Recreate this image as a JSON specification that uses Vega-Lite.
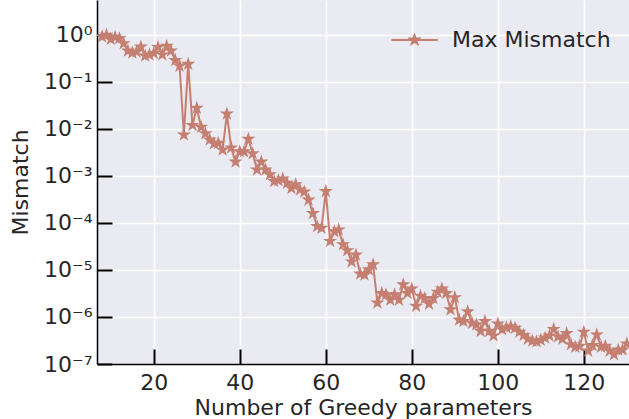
{
  "$schema": "https://vega.github.io/schema/vega-lite/v6.json",
  "width": 532,
  "height": 364,
  "autosize": {"type": "none"},
  "padding": {"left": 97, "top": 0, "right": 0, "bottom": 55},
  "background": "white",
  "config": {
    "view": {"fill": "#eaeaf2", "stroke": null},
    "font": "DejaVu Sans",
    "axis": {
      "domainColor": "black",
      "domainWidth": 1.5,
      "tickColor": "black",
      "tickWidth": 2,
      "tickSize": -15,
      "gridColor": "white",
      "gridWidth": 1.6,
      "labelFont": "DejaVu Sans",
      "labelFontSize": 22,
      "labelColor": "#262626",
      "titleFont": "DejaVu Sans",
      "titleFontSize": 22,
      "titleFontWeight": "normal",
      "titleColor": "#262626"
    }
  },
  "data": {
    "values": [
      {"n": 8, "mismatch": 0.92}, {"n": 9, "mismatch": 1.0}, {"n": 10, "mismatch": 0.81}, {"n": 11, "mismatch": 0.9},
      {"n": 12, "mismatch": 0.85}, {"n": 13, "mismatch": 0.66}, {"n": 14, "mismatch": 0.46}, {"n": 15, "mismatch": 0.42},
      {"n": 16, "mismatch": 0.44}, {"n": 17, "mismatch": 0.56}, {"n": 18, "mismatch": 0.36}, {"n": 19, "mismatch": 0.38},
      {"n": 20, "mismatch": 0.41}, {"n": 21, "mismatch": 0.55}, {"n": 22, "mismatch": 0.38}, {"n": 23, "mismatch": 0.58},
      {"n": 24, "mismatch": 0.46}, {"n": 25, "mismatch": 0.29}, {"n": 26, "mismatch": 0.22}, {"n": 27, "mismatch": 0.0075},
      {"n": 28, "mismatch": 0.24}, {"n": 29, "mismatch": 0.012}, {"n": 30, "mismatch": 0.028}, {"n": 31, "mismatch": 0.011},
      {"n": 32, "mismatch": 0.008}, {"n": 33, "mismatch": 0.0059}, {"n": 34, "mismatch": 0.0049}, {"n": 35, "mismatch": 0.005},
      {"n": 36, "mismatch": 0.0036}, {"n": 37, "mismatch": 0.021}, {"n": 38, "mismatch": 0.004}, {"n": 39, "mismatch": 0.002},
      {"n": 40, "mismatch": 0.0033}, {"n": 41, "mismatch": 0.0033}, {"n": 42, "mismatch": 0.0061}, {"n": 43, "mismatch": 0.003},
      {"n": 44, "mismatch": 0.00136}, {"n": 45, "mismatch": 0.002}, {"n": 46, "mismatch": 0.00136}, {"n": 47, "mismatch": 0.00107},
      {"n": 48, "mismatch": 0.00077}, {"n": 49, "mismatch": 0.00081}, {"n": 50, "mismatch": 0.00087}, {"n": 51, "mismatch": 0.00071},
      {"n": 52, "mismatch": 0.00055}, {"n": 53, "mismatch": 0.00066}, {"n": 54, "mismatch": 0.00051}, {"n": 55, "mismatch": 0.00046},
      {"n": 56, "mismatch": 0.00031}, {"n": 57, "mismatch": 0.00016}, {"n": 58, "mismatch": 0.000085}, {"n": 59, "mismatch": 0.000078},
      {"n": 60, "mismatch": 0.00047}, {"n": 61, "mismatch": 0.000041}, {"n": 62, "mismatch": 0.000066}, {"n": 63, "mismatch": 0.000072},
      {"n": 64, "mismatch": 0.000035}, {"n": 65, "mismatch": 0.000026}, {"n": 66, "mismatch": 0.000015}, {"n": 67, "mismatch": 0.000021},
      {"n": 68, "mismatch": 0.0000083}, {"n": 69, "mismatch": 0.0000079}, {"n": 70, "mismatch": 0.0000102}, {"n": 71, "mismatch": 0.000013},
      {"n": 72, "mismatch": 0.000002}, {"n": 73, "mismatch": 0.0000032}, {"n": 74, "mismatch": 0.000003}, {"n": 75, "mismatch": 0.0000023},
      {"n": 76, "mismatch": 0.000003}, {"n": 77, "mismatch": 0.0000023}, {"n": 78, "mismatch": 0.0000049}, {"n": 79, "mismatch": 0.0000032},
      {"n": 80, "mismatch": 0.000004}, {"n": 81, "mismatch": 0.0000017}, {"n": 82, "mismatch": 0.0000028}, {"n": 83, "mismatch": 0.0000025},
      {"n": 84, "mismatch": 0.0000019}, {"n": 85, "mismatch": 0.0000025}, {"n": 86, "mismatch": 0.0000034}, {"n": 87, "mismatch": 0.000004},
      {"n": 88, "mismatch": 0.0000032}, {"n": 89, "mismatch": 0.00000144}, {"n": 90, "mismatch": 0.0000026}, {"n": 91, "mismatch": 0.00000087},
      {"n": 92, "mismatch": 0.00000081}, {"n": 93, "mismatch": 0.0000013}, {"n": 94, "mismatch": 0.00000074}, {"n": 95, "mismatch": 0.00000069},
      {"n": 96, "mismatch": 0.0000005}, {"n": 97, "mismatch": 0.00000081}, {"n": 98, "mismatch": 0.0000005}, {"n": 99, "mismatch": 0.0000004},
      {"n": 100, "mismatch": 0.00000072}, {"n": 101, "mismatch": 0.00000054}, {"n": 102, "mismatch": 0.0000006}, {"n": 103, "mismatch": 0.00000063},
      {"n": 104, "mismatch": 0.00000058}, {"n": 105, "mismatch": 0.00000048}, {"n": 106, "mismatch": 0.00000041}, {"n": 107, "mismatch": 0.00000034},
      {"n": 108, "mismatch": 0.00000031}, {"n": 109, "mismatch": 0.0000003}, {"n": 110, "mismatch": 0.00000032}, {"n": 111, "mismatch": 0.00000036},
      {"n": 112, "mismatch": 0.0000004}, {"n": 113, "mismatch": 0.00000055}, {"n": 114, "mismatch": 0.00000038}, {"n": 115, "mismatch": 0.00000034},
      {"n": 116, "mismatch": 0.00000045}, {"n": 117, "mismatch": 0.00000026}, {"n": 118, "mismatch": 0.00000023}, {"n": 119, "mismatch": 0.00000024},
      {"n": 120, "mismatch": 0.00000048}, {"n": 121, "mismatch": 0.00000019}, {"n": 122, "mismatch": 0.00000025}, {"n": 123, "mismatch": 0.00000042},
      {"n": 124, "mismatch": 0.00000023}, {"n": 125, "mismatch": 0.00000024}, {"n": 126, "mismatch": 0.00000019}, {"n": 127, "mismatch": 0.00000016},
      {"n": 128, "mismatch": 0.0000002}, {"n": 129, "mismatch": 0.0000002}, {"n": 130, "mismatch": 0.00000027}
    ]
  },
  "encoding": {
    "x": {
      "field": "n",
      "type": "quantitative",
      "title": "Number of Greedy parameters",
      "scale": {"domain": [6.8, 130.5], "nice": false, "zero": false},
      "axis": {"values": [20, 40, 60, 80, 100, 120], "labelPadding": 23, "titlePadding": 4}
    },
    "y": {
      "field": "mismatch",
      "type": "quantitative",
      "title": "Mismatch",
      "scale": {"type": "log", "domain": [1e-7, 5.55], "nice": false},
      "axis": {
        "values": [1e-7, 1e-6, 1e-5, 1e-4, 1e-3, 1e-2, 1e-1, 1],
        "labelExpr": "'10' + (round(log(datum.value)/LN10) < 0 ? '⁻' : '') + ['⁰','¹','²','³','⁴','⁵','⁶','⁷','⁸','⁹'][abs(round(log(datum.value)/LN10))]",
        "labelPadding": 20,
        "titlePadding": 11
      }
    },
    "color": {
      "datum": "Max Mismatch",
      "scale": {"range": ["#c57f70"]},
      "legend": {
        "title": null,
        "orient": "none",
        "legendX": 306.5,
        "legendY": 29,
        "padding": 0,
        "symbolType": "M-3.5,-0.08L3.5,-0.08L3.5,0.08L-3.5,0.08Z M0,-1L0.2245,-0.309L0.951,-0.309L0.363,0.118L0.588,0.809L0,0.382L-0.588,0.809L-0.363,0.118L-0.951,-0.309L-0.2245,-0.309Z",
        "symbolSize": 170,
        "symbolFillColor": "#c57f70",
        "symbolStrokeColor": "#c57f70",
        "symbolStrokeWidth": 1,
        "labelFont": "DejaVu Sans",
        "labelFontSize": 22,
        "labelColor": "#262626",
        "labelOffset": 26.5
      }
    }
  },
  "layer": [
    {"mark": {"type": "line", "strokeWidth": 2, "clip": true}},
    {"mark": {"type": "point", "shape": "M0,-1L0.2245,-0.309L0.951,-0.309L0.363,0.118L0.588,0.809L0,0.382L-0.588,0.809L-0.363,0.118L-0.951,-0.309L-0.2245,-0.309Z", "filled": true, "size": 220, "opacity": 1, "clip": true}}
  ]
}
